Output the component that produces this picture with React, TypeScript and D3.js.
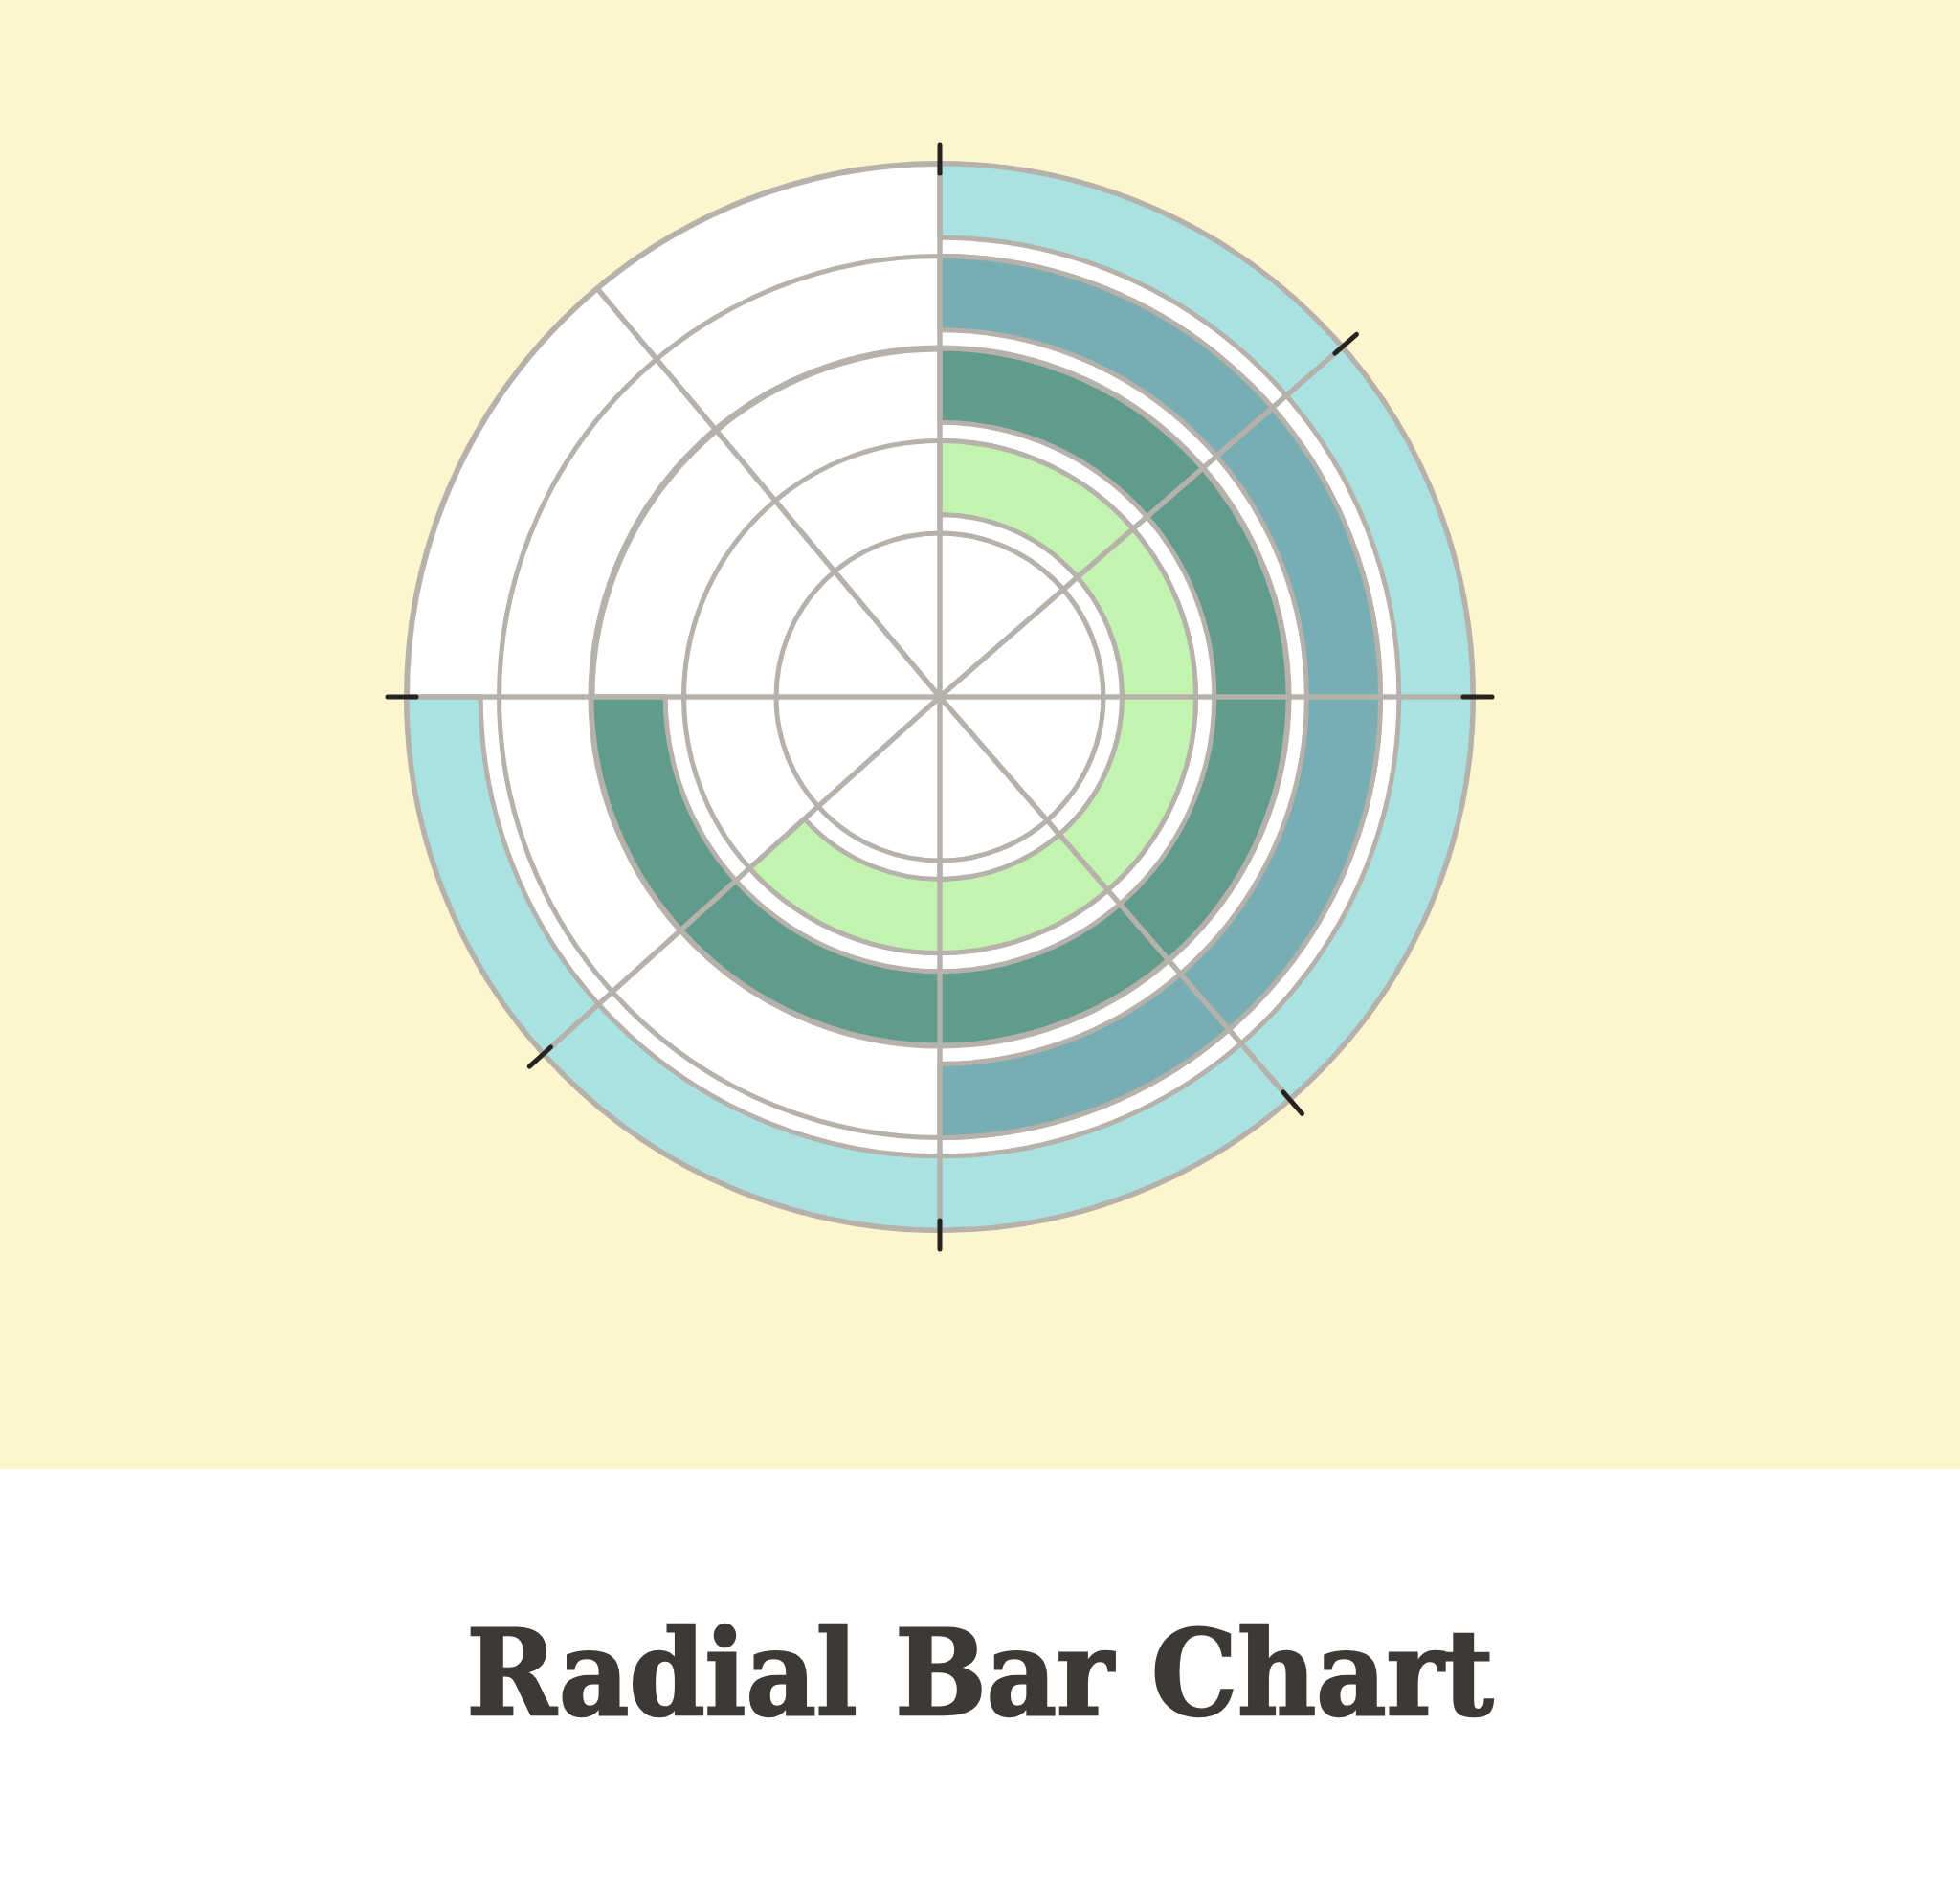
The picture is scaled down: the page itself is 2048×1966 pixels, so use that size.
import { useEffect, useRef } from 'react';
import * as d3 from 'd3';

// rings from inside to outside, bar end angle in degrees (clockwise from 12 o'clock)
const rings = ['Ring 1', 'Ring 2', 'Ring 3', 'Ring 4'];
const ringValues = [228, 270, 180, 270];
const ringPalette = ['#c2f4b0', '#619b8c', '#77adb3', '#aae2e1'];

// thin arc hugging the centre disc
const coreValue = 180;

// angular grid lines and the ones that get a black tick outside the rim
const gridAngles = [0, 49, 90, 139, 180, 228, 270, 320];
const tickedAngles = [0, 49, 90, 139, 180, 228, 270];

const title = 'Radial Bar Chart';

export default function App() {
  const svgRef = useRef<SVGSVGElement>(null);

  useEffect(() => {
    const svg = d3.select(svgRef.current);
    svg.selectAll('*').remove();

    const W = 2048;
    const H = 1966;
    const cx = 982;
    const cy = 728;
    const coreR = 171;
    const outerR = 557;
    const grey = '#b6b2ab';

    svg.attr('width', W).attr('height', H);

    svg.append('rect').attr('width', W).attr('height', H).attr('fill', '#ffffff');
    svg.append('rect').attr('width', W).attr('height', 1535).attr('fill', '#fdf5cd');

    const g = svg.append('g').attr('transform', `translate(${cx},${cy})`);

    const angle = d3.scaleLinear().domain([0, 360]).range([0, 2 * Math.PI]);
    const radius = d3.scaleBand<string>().domain(rings).range([coreR, outerR]).padding(0);
    const color = d3.scaleOrdinal<string, string>().domain(rings).range(ringPalette);
    const gap = radius.bandwidth() * 0.2;

    // white disc with rim
    g.append('circle')
      .attr('r', outerR)
      .attr('fill', '#ffffff')
      .attr('stroke', grey)
      .attr('stroke-width', 6);

    // track boundaries
    g.selectAll('circle.track')
      .data(rings.slice(1))
      .join('circle')
      .attr('class', 'track')
      .attr('r', (d) => radius(d)!)
      .attr('fill', 'none')
      .attr('stroke', grey)
      .attr('stroke-width', (d, i) => (i === 1 ? 7 : 5));

    const arc = d3.arc<{ r0: number; r1: number; a: number }>()
      .innerRadius((d) => d.r0)
      .outerRadius((d) => d.r1)
      .startAngle(0)
      .endAngle((d) => angle(d.a));

    // bars
    g.selectAll('path.bar')
      .data(rings)
      .join('path')
      .attr('class', 'bar')
      .attr('d', (d, i) =>
        arc({
          r0: radius(d)! + gap,
          r1: radius(d)! + radius.bandwidth(),
          a: ringValues[i],
        })
      )
      .attr('fill', (d) => color(d))
      .attr('stroke', grey)
      .attr('stroke-width', 5)
      .attr('stroke-linejoin', 'round');

    // centre disc
    g.append('circle')
      .attr('r', coreR)
      .attr('fill', '#ffffff')
      .attr('stroke', grey)
      .attr('stroke-width', 5);

    g.append('path')
      .attr('d', arc({ r0: coreR, r1: coreR + gap, a: coreValue }))
      .attr('fill', '#ffffff')
      .attr('stroke', grey)
      .attr('stroke-width', 5);

    // spokes
    g.selectAll('line.spoke')
      .data(gridAngles)
      .join('line')
      .attr('class', 'spoke')
      .attr('x1', 0)
      .attr('y1', 0)
      .attr('x2', (d) => outerR * Math.sin(angle(d)))
      .attr('y2', (d) => -outerR * Math.cos(angle(d)))
      .attr('stroke', grey)
      .attr('stroke-width', 5.5);

    // ticks
    g.selectAll('line.tick')
      .data(tickedAngles)
      .join('line')
      .attr('class', 'tick')
      .attr('x1', (d) => (outerR - 10) * Math.sin(angle(d)))
      .attr('y1', (d) => -(outerR - 10) * Math.cos(angle(d)))
      .attr('x2', (d) => (outerR + 20) * Math.sin(angle(d)))
      .attr('y2', (d) => -(outerR + 20) * Math.cos(angle(d)))
      .attr('stroke', '#24231f')
      .attr('stroke-width', 5)
      .attr('stroke-linecap', 'round');

    svg.append('text')
      .attr('x', 1024)
      .attr('y', 1791)
      .attr('text-anchor', 'middle')
      .attr('font-family', '"DejaVu Serif", serif')
      .attr('font-weight', 'bold')
      .attr('font-size', 123)
      .attr('textLength', 1073)
      .attr('lengthAdjust', 'spacingAndGlyphs')
      .attr('fill', '#3d3a36')
      .attr('stroke', '#3d3a36')
      .attr('stroke-width', 2.5)
      .text(title);
  }, []);

  return (
    <div style={{ position: 'absolute', left: 0, top: 0 }}>
      <svg ref={svgRef} style={{ display: 'block' }}></svg>
    </div>
  );
}
